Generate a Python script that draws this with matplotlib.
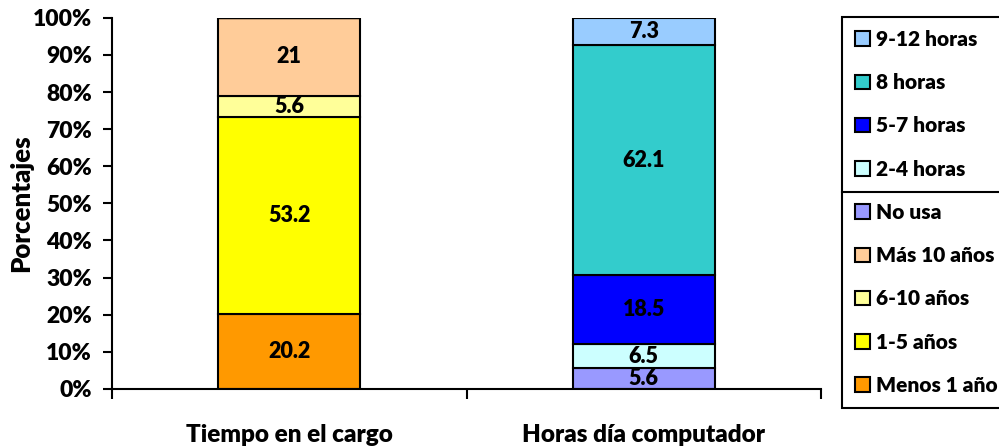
import matplotlib
matplotlib.use("Agg")
import matplotlib.pyplot as plt
from matplotlib.patches import Patch
from matplotlib.lines import Line2D
from matplotlib.ticker import PercentFormatter

plt.rcParams["font.family"] = ["Lato", "DejaVu Sans"]
plt.rcParams["font.weight"] = "heavy"
W = "heavy"

categories = ["Tiempo en el cargo", "Horas día computador"]

# series in stacking order; each series has a value for both bars
series_names = ["Menos 1 año", "1-5 años", "6-10 años", "Más 10 años",
                "No usa", "2-4 horas", "5-7 horas", "8 horas", "9-12 horas"]
series_values = [
    [20.2, 0], [53.2, 0], [5.6, 0], [21, 0],
    [0, 5.6], [0, 6.5], [0, 18.5], [0, 62.1], [0, 7.3],
]
series_labels = ["20.2", "53.2", "5.6", "21", "5.6", "6.5", "18.5", "62.1", "7.3"]
series_colors = ["#FF9900", "#FFFF00", "#FFFF99", "#FFCC99",
                 "#9999FF", "#CCFFFF", "#0000FF", "#33CCCC", "#99CCFF"]

fig = plt.figure(figsize=(9.99, 4.46), dpi=100)
ax = fig.add_axes([0.112, 0.128, 0.71, 0.832])

x = [0, 1]
bottoms = [0.0, 0.0]
for name, vals, lab, col in zip(series_names, series_values, series_labels, series_colors):
    ax.bar(x, vals, width=0.4, bottom=bottoms, color=col,
           edgecolor="black", linewidth=1.5, label=name)
    for i, v in enumerate(vals):
        if v > 0:
            ax.text(x[i], bottoms[i] + v / 2, lab, ha="center", va="center",
                    fontsize=15.5, fontweight=W, color="black")
    bottoms = [b + v for b, v in zip(bottoms, vals)]

ax.set_xlim(-0.5, 1.5)
ax.set_ylim(0, 100)
ax.set_yticks(range(0, 101, 10))
ax.yaxis.set_major_formatter(PercentFormatter(decimals=0))
ax.tick_params(axis="y", labelsize=16.5, length=6.5, width=1.5, direction="out", pad=8)
ax.set_xticks(x)
ax.set_xticklabels(categories, fontsize=17.5, fontweight=W)
ax.tick_params(axis="x", length=0, pad=25)
ax.set_xticks([-0.5, 0.5, 1.5], minor=True)
ax.tick_params(axis="x", which="minor", length=7, width=1.5, direction="out")
for lab in ax.get_yticklabels():
    lab.set_fontweight(W)
for side in ("top", "right"):
    ax.spines[side].set_visible(False)
for side in ("left", "bottom"):
    ax.spines[side].set_linewidth(1.5)
ax.set_ylabel("Porcentajes", fontsize=18.5, fontweight=W)
ax.yaxis.set_label_coords(-0.111, 0.5)

handles = [Patch(facecolor=c, edgecolor="black", linewidth=1.5)
           for c in series_colors][::-1]
leg = fig.legend(handles, series_names[::-1], loc="upper left",
                 bbox_to_anchor=(0.843, 0.962), bbox_transform=fig.transFigure,
                 prop={"weight": W, "size": 15},
                 frameon=True, fancybox=False, edgecolor="black", framealpha=1,
                 handlelength=0.7, handleheight=0.7, handletextpad=0.3,
                 labelspacing=1.165, borderpad=0.62, borderaxespad=0)
leg.get_frame().set_linewidth(1.5)
fig.add_artist(Line2D([0.843, 1.0], [0.5695, 0.5695], transform=fig.transFigure,
                      color="black", linewidth=1.5, zorder=10))

fig.savefig("out.png", dpi=100)
